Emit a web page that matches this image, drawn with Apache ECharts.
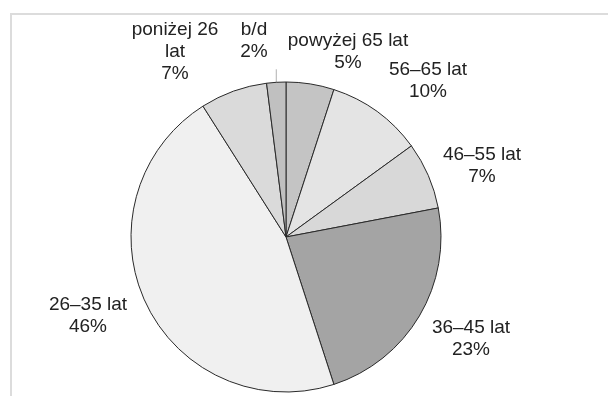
<!DOCTYPE html>
<html>
<head>
<meta charset="utf-8">
<script src="https://cdn.jsdelivr.net/npm/echarts@6/dist/echarts.min.js"></script>
<style>
html,body{margin:0;padding:0;background:#fff;}
#chart{width:610px;height:396px;}
</style>
</head>
<body>
<div id="chart"></div>
<script>
const categories = ['powyżej 65 lat', '56–65 lat', '46–55 lat', '36–45 lat', '26–35 lat', 'poniżej 26 lat', 'b/d'];
const labelNames = ['powyżej 65 lat', '56–65 lat', '46–55 lat', '36–45 lat', '26–35 lat', 'poniżej 26\nlat', 'b/d'];
const values = [5, 10, 7, 23, 46, 7, 2];
const colors = ['#c4c4c4', '#e4e4e4', '#d8d8d8', '#a4a4a4', '#f0f0f0', '#dadada', '#c0c0c0'];
// label anchor positions (layout only)
const labelPos = [[348, 52], [428, 81], [482, 166], [471, 339], [88, 316], [175, 52], [254, 41]];

const chart = echarts.init(document.getElementById('chart'));
chart.setOption({
  animation: false,
  backgroundColor: '#ffffff',
  graphic: [{
    type: 'polyline',
    shape: { points: [[11, 396], [11, 14], [608, 14]] },
    style: { stroke: '#dcdcdc', lineWidth: 2, fill: null },
    silent: true
  }],
  series: [{
    type: 'pie',
    center: [286, 237],
    radius: 155,
    startAngle: 90,
    clockwise: true,
    avoidLabelOverlap: false,
    itemStyle: { borderColor: '#2a2a2a', borderWidth: 1 },
    label: {
      show: true,
      position: 'outside',
      fontFamily: 'Liberation Sans, Arial, sans-serif',
      fontSize: 19,
      lineHeight: 22,
      color: '#222',
      align: 'center',
      formatter: p => labelNames[p.dataIndex] + '\n' + p.value + '%'
    },
    labelLine: { show: false },
    labelLayout: p => {
      const res = {
        x: labelPos[p.dataIndex][0],
        y: labelPos[p.dataIndex][1],
        align: 'center',
        verticalAlign: 'middle'
      };
      if (p.dataIndex === 6 && p.labelLinePoints) {
        const s = p.labelLinePoints[0];
        res.labelLinePoints = [s, [s[0], s[1] - 13], [s[0], s[1] - 13]];
      }
      return res;
    },
    data: categories.map((c, i) => ({
      name: c,
      value: values[i],
      itemStyle: { color: colors[i] },
      labelLine: i === 6 ? { show: true, length: 8, length2: 0, lineStyle: { color: '#b0b0b0', width: 1 } } : { show: false }
    }))
  }]
});
</script>
</body>
</html>
